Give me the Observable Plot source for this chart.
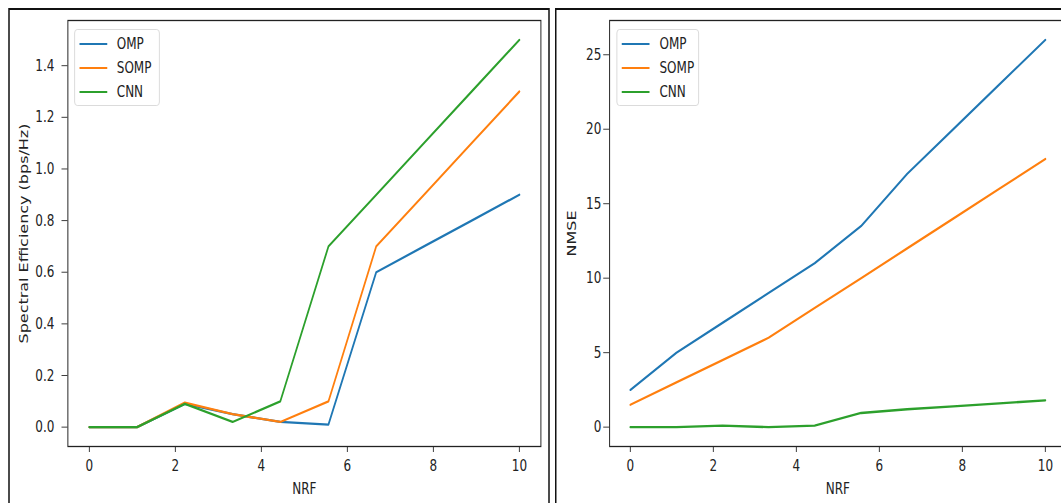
<!DOCTYPE html>
<html><head><meta charset="utf-8">
<script src="https://cdn.jsdelivr.net/npm/d3@7"></script>
<script src="https://cdn.jsdelivr.net/npm/@observablehq/plot@0.6"></script>
<style>
html,body{margin:0;padding:0;background:#fff;overflow:hidden;width:1061px;height:503px}
#wrap{position:absolute;left:0;top:0;width:1440px;height:503px;transform:scaleX(0.75);transform-origin:0 0;font-family:"DejaVu Sans",sans-serif;color:#222}
.panel{position:absolute;top:8px;height:520px;border-style:solid;border-color:#111;border-width:2px 2.67px;box-sizing:border-box}
.plot{position:absolute;top:0}
.legend{position:absolute;top:29px;height:77px;border:1.3px solid #d6d6d6;border-radius:4px;background:rgba(255,255,255,0.85);box-sizing:border-box}
.entry{position:absolute;left:0;height:24px;width:100%}
.entry .sw{position:absolute;left:6px;width:37px;top:11px;height:2.4px}
.entry .lb{position:absolute;left:56px;top:0;line-height:24px;font-size:16px;color:#222}
</style>
</head><body>
<div id="wrap">
  <div class="panel" style="left:10.67px;width:722.7px"></div>
  <div class="panel" style="left:740px;width:720px"></div>
</div>
<script>
const nrf = [0, 1.11, 2.22, 3.33, 4.44, 5.56, 6.67, 7.78, 8.89, 10];
const seriesNames = ["OMP", "SOMP", "CNN"];
const seriesColors = ["#1f77b4", "#ff7f0e", "#2ca02c"];

const seOMP  = [0.0, 0.0, 0.09, 0.05, 0.02, 0.01, 0.6, 0.7, 0.8, 0.9];
const seSOMP = [0.0, 0.0, 0.095, 0.05, 0.02, 0.1, 0.7, 0.9, 1.1, 1.3];
const seCNN  = [0.0, 0.0, 0.09, 0.02, 0.1, 0.7, 0.9, 1.1, 1.3, 1.5];

const nmseOMP  = [2.5, 5, 7, 9, 11, 13.5, 17, 20, 23, 26];
const nmseSOMP = [1.5, 3, 4.5, 6, 8, 10, 12, 14, 16, 18];
const nmseCNN  = [0, 0, 0.1, 0, 0.1, 0.95, 1.2, 1.4, 1.6, 1.8];

const xTicks = [0, 2, 4, 6, 8, 10];
const seTicks = [0, 0.2, 0.4, 0.6, 0.8, 1.0, 1.2, 1.4];
const nmseTicks = [0, 5, 10, 15, 20, 25];
const xLabel = "NRF";
const seLabel = "Spectral Efficiency (bps/Hz)";
const nmseLabel = "NMSE";

function makePanel({values, yDomain, yTicks, yFormat, yLabel, width, marginLeft, marginRight, yLabelDx, yTickPadding}) {
  const data = [];
  seriesNames.forEach((s, i) => nrf.forEach((x, j) => data.push({x, y: values[i][j], s})));
  return Plot.plot({
    width, height: 503, marginLeft, marginRight, marginTop: 20, marginBottom: 57,
    style: {fontFamily: "DejaVu Sans", fontSize: "16px", color: "#222", background: "transparent", overflow: "visible"},
    x: {domain: [-0.5, 10.5], label: null},
    y: {domain: yDomain, label: null},
    color: {domain: seriesNames, range: seriesColors},
    marks: [
      Plot.axisX({ticks: xTicks, tickSize: 6, tickPadding: 7, tickFormat: d => String(d), label: null, stroke: "#222"}),
      Plot.axisY({ticks: yTicks, tickSize: 8, tickPadding: yTickPadding, tickFormat: yFormat, label: null, stroke: "#222"}),
      Plot.lineY(data, {x: "x", y: "y", z: "s", stroke: "s", strokeWidth: 2.3, strokeLinejoin: "round"}),
      Plot.frame({stroke: "#222", strokeWidth: 1.3}),
      Plot.text([yLabel], {frameAnchor: "left", rotate: -90, dx: yLabelDx, text: d => d, fontSize: 16, textAnchor: "middle", lineAnchor: "middle", fill: "#222"}),
      Plot.text([xLabel], {frameAnchor: "bottom", dy: 42, text: d => d, fontSize: 16, lineAnchor: "middle", fill: "#222"})
    ]
  });
}

function makeLegend(left, width) {
  const lg = document.createElement("div");
  lg.className = "legend";
  lg.style.left = left + "px";
  lg.style.width = width + "px";
  seriesNames.forEach((s, i) => {
    const e = document.createElement("div");
    e.className = "entry";
    e.style.top = (2 + i * 24) + "px";
    const sw = document.createElement("div");
    sw.className = "sw";
    sw.style.background = seriesColors[i];
    const lb = document.createElement("div");
    lb.className = "lb";
    lb.textContent = s;
    e.appendChild(sw); e.appendChild(lb);
    lg.appendChild(e);
  });
  return lg;
}

const wrap = document.getElementById("wrap");

const left = makePanel({
  values: [seOMP, seSOMP, seCNN], yDomain: [-0.075, 1.575], yTicks: seTicks,
  yFormat: d => d.toFixed(1), yLabel: seLabel, width: 733, marginLeft: 90, marginRight: 12.3,
  yLabelDx: -58, yTickPadding: 10
});
left.classList.add("plot");
left.style.left = "0px";
wrap.appendChild(left);

const right = makePanel({
  values: [nmseOMP, nmseSOMP, nmseCNN], yDomain: [-1.3, 27.3], yTicks: nmseTicks,
  yFormat: d => String(d), yLabel: nmseLabel, width: 695, marginLeft: 72.3, marginRight: 14,
  yLabelDx: -49.6, yTickPadding: 3
});
right.classList.add("plot");
right.style.left = "740px";
wrap.appendChild(right);

wrap.appendChild(makeLegend(98.7, 114.7));
wrap.appendChild(makeLegend(822.3, 110));
</script>
</body></html>
